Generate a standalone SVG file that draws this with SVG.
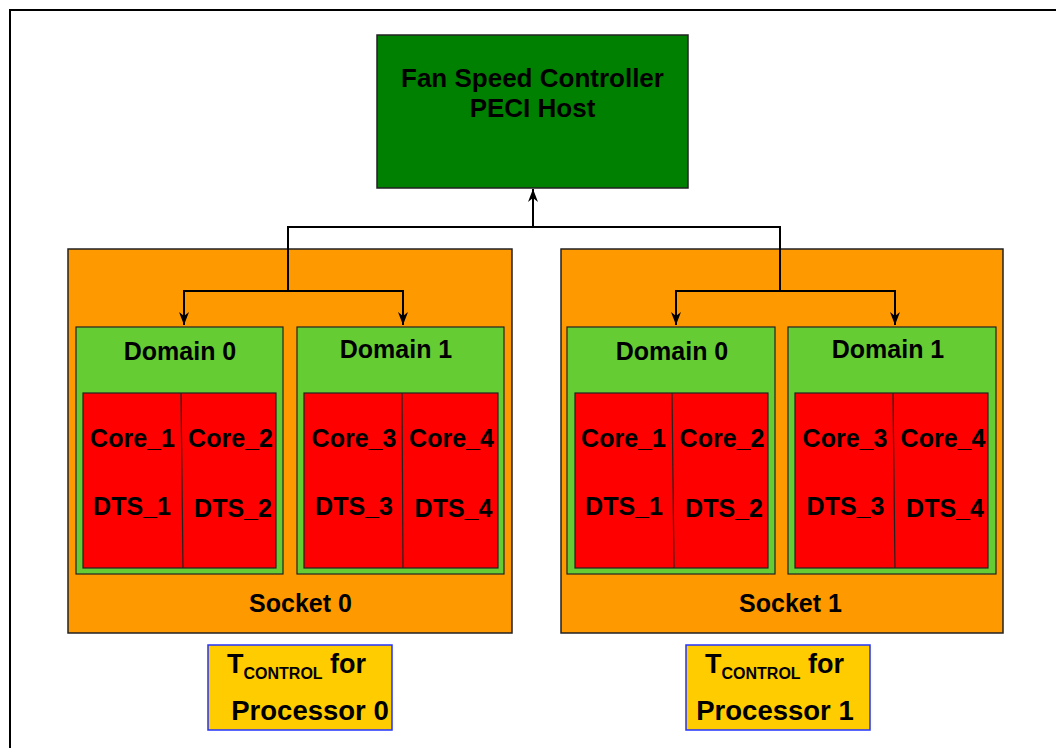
<svg xmlns="http://www.w3.org/2000/svg" width="1056" height="748" viewBox="0 0 1056 748">
<style>
text{font-family:"Liberation Sans",Arial,sans-serif;font-weight:bold;fill:#000}
.lbl{font-size:25px;text-anchor:middle}
.big{font-size:26px;text-anchor:middle}
.sock{fill:#FF9900;stroke:#222;stroke-width:1.5}
.dom{fill:#66CC33;stroke:#222;stroke-width:1.2}
.core{fill:#FF0000;stroke:#222;stroke-width:1.2}
.div{stroke:#222;stroke-width:1.2}
.tc{fill:#FFCC00;stroke:#2233FF;stroke-width:1.5}
.con{fill:none;stroke:#000;stroke-width:2}
</style>
<defs>
<marker id="ah" viewBox="0 0 10 10" refX="10" refY="5" markerWidth="13" markerHeight="10" orient="auto" markerUnits="userSpaceOnUse" preserveAspectRatio="none">
<path d="M0,0 L10,5 L0,10 L3,5 Z" fill="#000"/>
</marker>
</defs>
<rect width="1056" height="748" fill="#fff"/>
<rect x="10" y="10" width="1100" height="800" fill="none" stroke="#000" stroke-width="2"/>

<g id="host">
<rect x="377" y="35" width="311" height="153" fill="#008000" stroke="#222" stroke-width="1.5"/>
<text class="big" x="532.5" y="87">Fan Speed Controller</text>
<text class="big" x="532.5" y="117">PECI Host</text>
</g>

<g id="socket0">
<rect class="sock" x="68" y="249" width="444" height="384"/>
<text class="lbl" x="300.5" y="612">Socket 0</text>
</g>
<g id="s0-domain0">
<rect class="dom" x="76" y="327" width="207" height="247"/>
<text class="lbl" x="180" y="360">Domain 0</text>
<rect class="core" x="83" y="393" width="193" height="175"/>
<line class="div" x1="181" y1="393" x2="183" y2="568"/>
<text class="lbl" x="132.5" y="447">Core_1</text>
<text class="lbl" x="230.5" y="447">Core_2</text>
<text class="lbl" x="132" y="515">DTS_1</text>
<text class="lbl" x="233" y="517">DTS_2</text>
</g>
<g id="s0-domain1">
<rect class="dom" x="297" y="327" width="207" height="247"/>
<text class="lbl" x="396" y="358">Domain 1</text>
<rect class="core" x="304" y="393" width="194" height="175"/>
<line class="div" x1="402" y1="393" x2="403" y2="568"/>
<text class="lbl" x="354" y="447">Core_3</text>
<text class="lbl" x="451.5" y="447">Core_4</text>
<text class="lbl" x="354" y="515">DTS_3</text>
<text class="lbl" x="453.5" y="517">DTS_4</text>
</g>

<g id="socket1">
<rect class="sock" x="561" y="249" width="442" height="384"/>
<text class="lbl" x="790.5" y="612">Socket 1</text>
</g>
<g id="s1-domain0">
<rect class="dom" x="567" y="327" width="208" height="247"/>
<text class="lbl" x="672" y="360">Domain 0</text>
<rect class="core" x="575" y="393" width="193" height="175"/>
<line class="div" x1="672" y1="393" x2="674" y2="568"/>
<text class="lbl" x="623.5" y="447">Core_1</text>
<text class="lbl" x="722" y="447">Core_2</text>
<text class="lbl" x="624" y="515">DTS_1</text>
<text class="lbl" x="724" y="517">DTS_2</text>
</g>
<g id="s1-domain1">
<rect class="dom" x="788" y="327" width="208" height="247"/>
<text class="lbl" x="888" y="358">Domain 1</text>
<rect class="core" x="795" y="393" width="193" height="175"/>
<line class="div" x1="893" y1="393" x2="895" y2="568"/>
<text class="lbl" x="845" y="447">Core_3</text>
<text class="lbl" x="943" y="447">Core_4</text>
<text class="lbl" x="845.5" y="515">DTS_3</text>
<text class="lbl" x="945" y="517">DTS_4</text>
</g>

<g id="tcontrol0">
<rect class="tc" x="208" y="645" width="184" height="85"/>
<text x="227" y="673" font-size="27">T<tspan font-size="16" dy="6">CONTROL</tspan><tspan dy="-6"> for</tspan></text>
<text x="310" y="720" font-size="27.5" text-anchor="middle">Processor 0</text>
</g>
<g id="tcontrol1">
<rect class="tc" x="686" y="645" width="184" height="85"/>
<text x="705" y="673" font-size="27">T<tspan font-size="16" dy="6">CONTROL</tspan><tspan dy="-6"> for</tspan></text>
<text x="775" y="720" font-size="27.5" text-anchor="middle">Processor 1</text>
</g>

<g id="connectors">
<path class="con" d="M288,291 V227 H780 V291"/>
<line class="con" x1="533" y1="227" x2="533" y2="189" marker-end="url(#ah)"/>
<path class="con" d="M184,315 V291 H403 V315"/>
<line class="con" x1="184" y1="300" x2="184" y2="325" marker-end="url(#ah)"/>
<line class="con" x1="403" y1="300" x2="403" y2="325" marker-end="url(#ah)"/>
<path class="con" d="M676,315 V291 H895 V315"/>
<line class="con" x1="676" y1="300" x2="676" y2="325" marker-end="url(#ah)"/>
<line class="con" x1="895" y1="300" x2="895" y2="325" marker-end="url(#ah)"/>
</g>
</svg>
